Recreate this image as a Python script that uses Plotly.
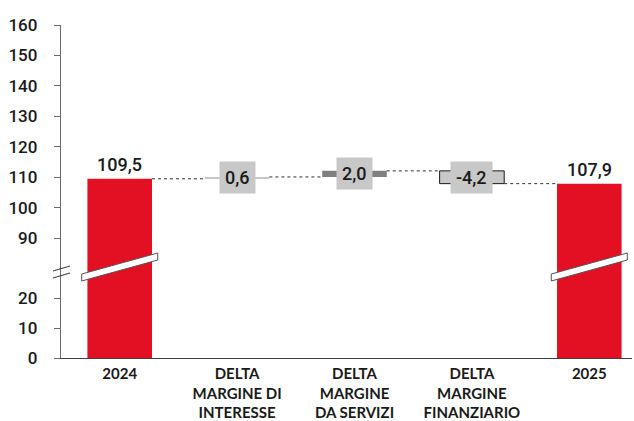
import plotly.graph_objects as go
from plotly.subplots import make_subplots

# ---- data -------------------------------------------------------------
categories = [
    "2024",
    "DELTA<br>MARGINE DI<br>INTERESSE",
    "DELTA<br>MARGINE<br>DA SERVIZI",
    "DELTA<br>MARGINE<br>FINANZIARIO",
    "2025",
]
start_value = 109.5
deltas = [0.6, 2.0, -4.2]
end_value = 107.9

top_ticks = [90, 100, 110, 120, 130, 140, 150, 160]
bottom_ticks = [0, 10, 20]

# ---- styling ----------------------------------------------------------
RED = "#e30f22"
AXIS = "#6b6b6b"
TEXT = "#1a1a1a"
delta_fill = ["#c8c8c8", "#808080", "#c8c8c8"]
delta_line = ["#c8c8c8", "#808080", "#1a1a1a"]
delta_line_w = [0, 0, 1]
BAR_W = 0.55

W, H = 634, 421
M_L, M_R, M_T, M_B = 61, 2, 25, 63
plot_h = H - M_T - M_B
join_px = 86                      # height of the lower (0-28) panel in px
lower_frac = join_px / plot_h

# ---- waterfall geometry from the data --------------------------------
bases = []
level = start_value
for d in deltas:
    bases.append(level)
    level += d
levels_after = [start_value] + [b + d for b, d in zip(bases, deltas)]

bar_base = [0] + bases + [0]
bar_y = [start_value] + deltas + [end_value]
fill = [RED] + delta_fill + [RED]
line_c = [RED] + delta_line + [RED]
line_w = [0] + delta_line_w + [0]


def fmt(v):
    return f"{v:.1f}".replace(".", ",")


fig = make_subplots(rows=2, cols=1, shared_xaxes=True, vertical_spacing=0,
                    row_heights=[1 - lower_frac, lower_frac])

for row in (1, 2):
    fig.add_trace(go.Bar(
        x=categories, y=bar_y, base=bar_base, width=[BAR_W] * len(categories),
        marker=dict(color=fill, line=dict(color=line_c, width=line_w)),
        showlegend=False, hoverinfo="skip"), row=row, col=1)

# dotted connectors between consecutive bars
for i, lv in enumerate(levels_after):
    fig.add_shape(type="line", xref="x", yref="y",
                  x0=i + BAR_W / 2, x1=i + 1 - BAR_W / 2, y0=lv, y1=lv,
                  line=dict(color="#333333", width=1, dash="dot"))

value_font = dict(family="Roboto", size=18, color=TEXT, weight=500)

# value labels of the totals
for i, v in [(0, start_value), (4, end_value)]:
    fig.add_annotation(x=i, y=v, xref="x", yref="y", text=fmt(v),
                       showarrow=False, yanchor="bottom", yshift=2,
                       font=value_font)

# boxed labels of the deltas
for k, (b, d) in enumerate(zip(bases, deltas)):
    fig.add_annotation(x=k + 1, y=b + d / 2, xref="x", yref="y", text=fmt(d),
                       showarrow=False, bgcolor="#c8c8c8", borderpad=5,
                       font=value_font)

# break marks: white slash across the total bars
slash = "M -38,-9 L 38,12 L 38,19 L -38,-2 Z"
for i in (0, 4):
    fig.add_shape(type="path", xref="x", yref="paper",
                  xsizemode="pixel", ysizemode="pixel",
                  xanchor=i, yanchor=lower_frac, path=slash,
                  fillcolor="white", line=dict(color="#555555", width=1),
                  layer="above")

# break marks on the y axis
for dy in (3, -4):
    fig.add_shape(type="line", xref="paper", yref="paper",
                  xsizemode="pixel", ysizemode="pixel",
                  xanchor=0, yanchor=lower_frac,
                  x0=-8, x1=9, y0=dy - 2, y1=dy + 3,
                  line=dict(color="#444444", width=1.3), layer="above")

x_range = [-0.5, -0.5 + (W - M_L - M_R) / 117.4]
tick_font = dict(family="Roboto", size=17, color=TEXT, weight=500)

fig.update_xaxes(range=x_range, showgrid=False, zeroline=False,
                 automargin=False)
fig.update_xaxes(row=1, col=1, showline=False, ticks="", showticklabels=False)
fig.update_xaxes(row=2, col=1, showline=True, linecolor="#404040", linewidth=1,
                 ticks="", tickfont=dict(family="Lato", size=15, color=TEXT,
                                         weight="bold"),
                 ticklabelstandoff=2)

fig.update_yaxes(row=1, col=1, range=[160 - (plot_h - join_px) / 3.045, 160],
                 tickvals=top_ticks, ticktext=[str(t) for t in top_ticks])
fig.update_yaxes(row=2, col=1, range=[0, join_px / 3.0],
                 tickvals=bottom_ticks, ticktext=[str(t) for t in bottom_ticks])
fig.update_yaxes(showgrid=False, zeroline=False, showline=True,
                 linecolor=AXIS, linewidth=1.3, ticks="outside", ticklen=6,
                 tickcolor=AXIS, tickwidth=1.3, tickfont=tick_font,
                 ticklabelstandoff=13, automargin=False)

fig.update_layout(
    width=W, height=H, margin=dict(l=M_L, r=M_R, t=M_T, b=M_B),
    paper_bgcolor="white", plot_bgcolor="white", barmode="overlay",
    font=dict(family="Roboto", color=TEXT),
)

fig.write_html("out.html")
